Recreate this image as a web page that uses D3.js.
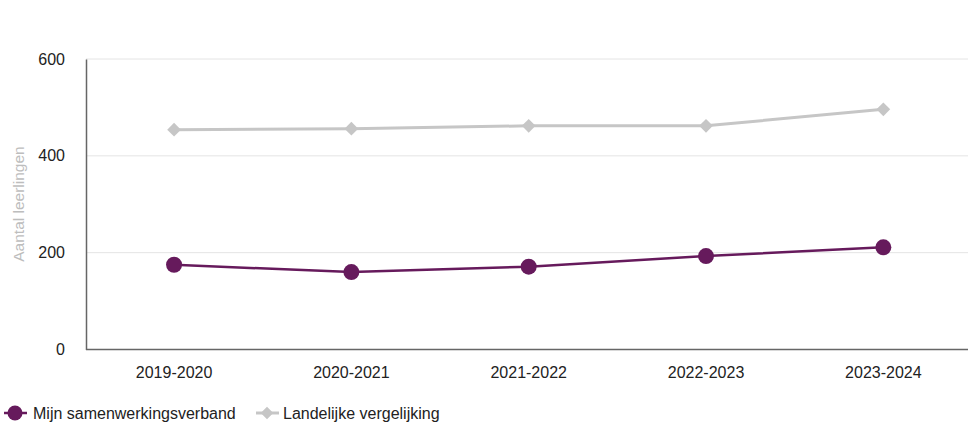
<!DOCTYPE html>
<html><head><meta charset="utf-8">
<script src="https://cdn.jsdelivr.net/npm/d3@7"></script>
<style>body{margin:0;background:#fff;} svg{display:block;font-family:"Liberation Sans",Arial,sans-serif;}</style>
</head><body>
<svg id="c" width="968" height="425"></svg>
<script>
const categories = ["2019-2020","2020-2021","2021-2022","2022-2023","2023-2024"];
const mijnValues = [175,160,171,193,211];
const landelijkValues = [454,456,462,462,496];
const yTicks = [0,200,400,600];
const seriesNames = ["Mijn samenwerkingsverband","Landelijke vergelijking"];

const svg = d3.select("#c");
const x = d3.scaleBand().domain(categories).range([85.4, 972]).padding(0);
const y = d3.scaleLinear().domain([0,600]).range([349.5, 59]);
const purple = "#661a5c", gray = "#c6c6c6";
const FF = "Liberation Sans, Arial, sans-serif";

// gridlines
svg.append("g").selectAll("line").data(yTicks.filter(d=>d>0)).join("line")
  .attr("x1",86).attr("x2",968).attr("y1",d=>y(d)).attr("y2",d=>y(d))
  .attr("stroke","#e4e4e4").attr("stroke-width",1);

// y axis
const ya = svg.append("g").attr("transform","translate(86,0)").call(d3.axisLeft(y).tickValues(yTicks).tickSize(0).tickPadding(21));
ya.select(".domain").attr("stroke","#666").attr("stroke-width",1.5);
ya.selectAll("text").attr("font-size",16).attr("fill","#222").attr("font-family",FF);

// x axis
const xa = svg.append("g").attr("transform","translate(0,349.5)").call(d3.axisBottom(x).tickSize(0).tickPadding(17));
xa.select(".domain").attr("d","M86,0H968").attr("stroke","#666").attr("stroke-width",1.5);
xa.selectAll("text").attr("font-size",16).attr("fill","#222").attr("font-family",FF);

// y label
svg.append("text").attr("transform","translate(24,204) rotate(-90)").attr("text-anchor","middle")
  .attr("font-size",15.5).attr("fill","#bdbdbd").text("Aantal leerlingen");

const cx = d => x(d) + x.bandwidth()/2;
const line = d3.line().x((d,i)=>cx(categories[i])).y(d=>y(d));

// gray series
svg.append("path").datum(landelijkValues).attr("d",line).attr("fill","none").attr("stroke",gray).attr("stroke-width",3);
svg.append("g").selectAll("path").data(landelijkValues).join("path")
  .attr("d",d3.symbol(d3.symbolDiamond2,120)())
  .attr("transform",(d,i)=>`translate(${cx(categories[i])},${y(d)})`).attr("fill",gray);

// purple series
svg.append("path").datum(mijnValues).attr("d",line).attr("fill","none").attr("stroke",purple).attr("stroke-width",2.5);
svg.append("g").selectAll("circle").data(mijnValues).join("circle")
  .attr("cx",(d,i)=>cx(categories[i])).attr("cy",d=>y(d)).attr("r",8).attr("fill",purple);

// legend
const lg = svg.append("g").attr("transform","translate(0,413)");
lg.append("line").attr("x1",4).attr("x2",27).attr("y1",0).attr("y2",0).attr("stroke",purple).attr("stroke-width",2.5);
lg.append("circle").attr("cx",15).attr("cy",0).attr("r",7.5).attr("fill",purple);
lg.append("text").attr("x",33).attr("y",6).attr("font-size",16).attr("fill","#222").text(seriesNames[0]);
lg.append("line").attr("x1",256).attr("x2",279).attr("y1",0).attr("y2",0).attr("stroke",gray).attr("stroke-width",3);
lg.append("path").attr("d",d3.symbol(d3.symbolDiamond2,100)()).attr("transform","translate(267,0)").attr("fill",gray);
lg.append("text").attr("x",283).attr("y",6).attr("font-size",16).attr("fill","#222").text(seriesNames[1]);
</script>
</body></html>
